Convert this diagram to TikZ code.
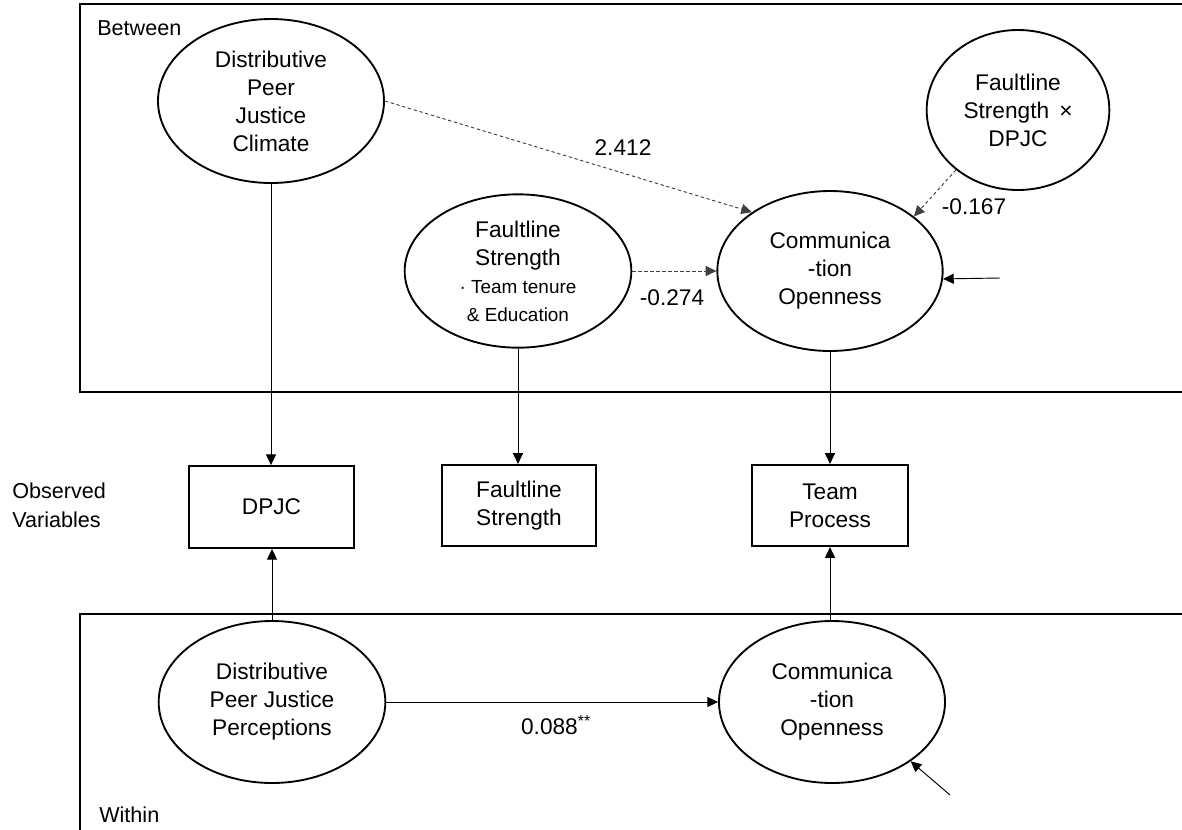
\documentclass[tikz,border=0pt]{standalone}
\usepackage{fontspec}
\setmainfont{Liberation Sans}
\usetikzlibrary{shapes.geometric,arrows.meta}
\newcommand{\smallfs}{\fontsize{14.2}{17.5}\selectfont}
\tikzset{
  lat/.style={ellipse, draw, line width=1.4pt, inner sep=0pt, align=center, font=\fontsize{17}{21}\selectfont},
  obs/.style={rectangle, draw, line width=1.4pt, inner sep=0pt, align=center, font=\fontsize{17}{21}\selectfont},
  arr/.style={-{Triangle[length=8pt,width=7.5pt]}, line width=0.7pt},
  darr/.style={arr, dash pattern=on 2.5pt off 2pt, draw=black!75},
  lab/.style={font=\fontsize{17}{21}\selectfont, inner sep=0pt},
  frame/.style={line width=1.4pt},
  side/.style={font=\fontsize{16.2}{22}\selectfont, inner sep=0pt, align=left}
}
\begin{document}
\begin{tikzpicture}[x=0.75pt,y=-0.75pt]
\useasboundingbox (0,0) rectangle (1182,829);
% frames
\draw[frame] (1183,4) -- (80,4) -- (80,392) -- (1183,392);
\draw[frame] (80,830) -- (80,614) -- (1183,614);
% side labels
\node[side, anchor=base west] (between) at (97,35) {Between};
\node[side, anchor=base west] (within) at (99,822) {Within};
\node[side, anchor=west] (obsv) at (12,505) {Observed\\Variables};
% latent variables
\node[lat, minimum width=169.5pt, minimum height=123pt] (dpjcL) at (271,101) {Distributive\\Peer\\Justice\\Climate};
\node[lat, minimum width=170pt, minimum height=115pt] (fsL) at (518,271) {Faultline\\Strength\\\smallfs · Team tenure\\\smallfs \& Education};
\node[lat, minimum width=137pt, minimum height=120pt] (fxd) at (1018,110) {Faultline\\Strength \,×\\DPJC};
\node[lat, minimum width=169pt, minimum height=120pt] (coT) at (830,271) {Communica\\-tion\\Openness};
\node[lat, minimum width=170pt, minimum height=121.5pt] (perc) at (272,702) {Distributive\\Peer Justice\\Perceptions};
\node[lat, minimum width=169.5pt, minimum height=121.5pt] (coB) at (832,702) {Communica\\-tion\\Openness};
% observed variables
\node[obs, minimum width=124pt, minimum height=61.5pt] (dpjcO) at (271.5,507) {DPJC};
\node[obs, minimum width=115.5pt, minimum height=61pt] (fsO) at (519,505.5) {Faultline\\Strength};
\node[obs, minimum width=117pt, minimum height=61pt] (tpO) at (830,505.5) {Team\\Process};
% residual starts
\coordinate (r1) at (1000,278);
\coordinate (r2) at (950,795);
% connectors
\draw[arr] (dpjcL.south) -- (dpjcL.south |- dpjcO.north);
\draw[arr] (fsL.south) -- (fsL.south |- fsO.north);
\draw[arr] (coT.south) -- (coT.south |- tpO.north);
\draw[arr] (perc.north) -- (perc.north |- dpjcO.south);
\draw[arr] (coB.north -| tpO.south) -- (tpO.south);
\draw[darr] (dpjcL.east) -- (coT.143);
\draw[darr] (fsL.east) -- (coT.west);
\draw[darr] (fxd.224) -- (coT.33);
\draw[arr] (r1) -- (coT.-4);
\draw[arr] (perc.east) -- (coB.west);
\draw[arr] (r2) -- (coB.-37);
% path labels
\node[lab] (l1) at (623,148) {2.412};
\node[lab] (l2) at (672,298) {-0.274};
\node[lab] (l3) at (974,207) {-0.167};
\node[lab] (l4) at (556,725) {0.088\textsuperscript{**}};
\end{tikzpicture}
\end{document}
